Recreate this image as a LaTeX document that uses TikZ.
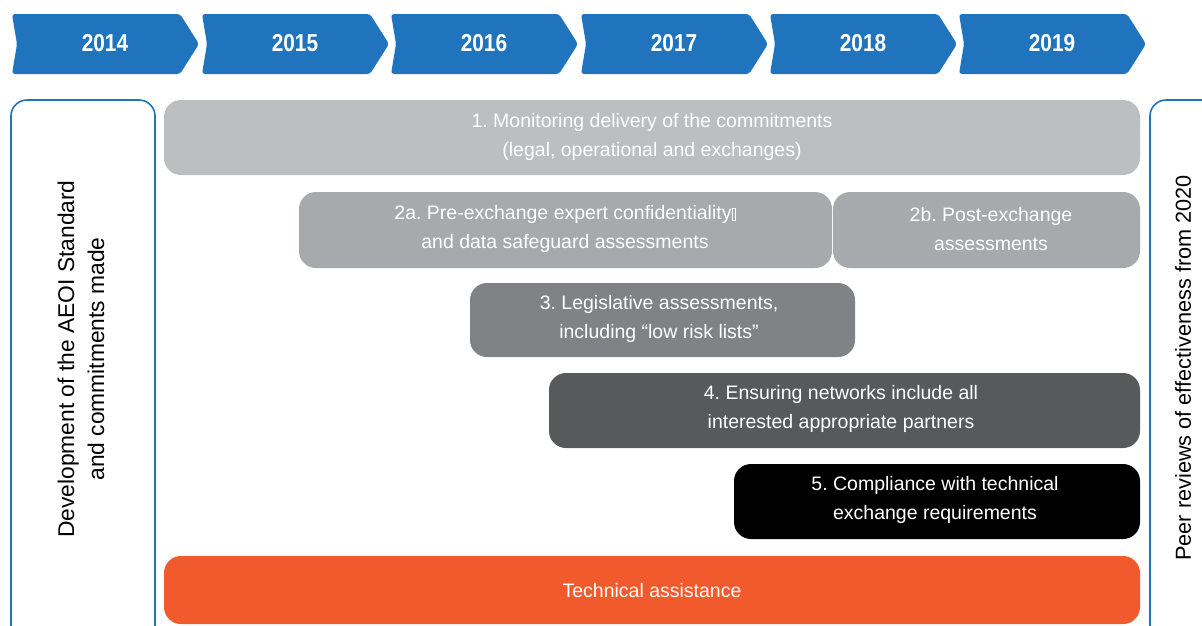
\documentclass[tikz,border=0pt]{standalone}
\usepackage{fontspec}
\usepackage{graphicx}
\setmainfont{Liberation Sans}
\frenchspacing
\definecolor{cblue}{HTML}{1F74BD}
\definecolor{g1}{HTML}{BCBEC0}
\definecolor{g2}{HTML}{A7A9AC}
\definecolor{g3}{HTML}{808285}
\definecolor{g4}{HTML}{58595B}
\definecolor{orng}{HTML}{F15A2C}
\tikzset{
  chev/.style={fill=cblue, rounded corners=3pt},
  yearlbl/.style={text=white, font=\fontsize{24.5}{28}\selectfont\bfseries},
  bar/.style={rounded corners=17pt, text=white, align=center, inner sep=0pt,
    font=\fontsize{19.5}{29}\selectfont},
  sidebox/.style={draw=cblue, line width=1.6pt, rounded corners=16pt},
  sidelbl/.style={rotate=90, align=center, text=black}
}
\newcommand{\mychev}[2]{%
  \fill[chev] (#1,14) -- (#1+168,14) -- (#1+187,44) -- (#1+168,74) -- (#1,74) -- (#1+5,44) -- cycle;
  \node[yearlbl] (y#2) at (#1+93,43) {\scalebox{0.85}[1]{#2}};
}
\begin{document}
\begin{tikzpicture}[x=1pt,y=-1pt]
\useasboundingbox (0,0) rectangle (1202,625);
\fill[white] (0,0) rectangle (1202,625);
% chevrons
\mychev{12}{2014}
\mychev{202}{2015}
\mychev{391}{2016}
\mychev{581}{2017}
\mychev{770}{2018}
\mychev{959}{2019}
% side boxes
\draw[sidebox] (11,640) -- (11,100) -- (155,100) -- (155,640);
\draw[sidebox] (1150,640) -- (1150,100) -- (1230,100);
\node[sidelbl, font=\fontsize{22.8}{30}\selectfont] (dev) at (81,359) {Development of the AEOI Standard\\and commitments made};
\node[sidelbl, font=\fontsize{21.7}{30}\selectfont] (peer) at (1183,368) {Peer reviews of effectiveness from 2020};
% bars
\fill[g1, rounded corners=17pt] (164,100) rectangle (1140,175);
\node[bar] (b1) at (652,137) {1. Monitoring delivery of the commitments\\(legal, operational and exchanges)};
\fill[g2, rounded corners=17pt] (299,192) rectangle (832,268);
\node[bar] (b2a) at (565,229) {2a. Pre-exchange expert confidentiality{\setlength{\fboxsep}{0pt}\setlength{\fboxrule}{0.5pt}\fbox{\rule{0pt}{11pt}\hspace{3pt}}}\\and data safeguard assessments};
\fill[g2, rounded corners=17pt] (833,192) rectangle (1140,268);
\node[bar] (b2b) at (991,229) {2b. Post-exchange\\assessments};
\fill[g3, rounded corners=17pt] (470,283) rectangle (855,357);
\node[bar] (b3) at (659,319) {3. Legislative assessments,\\including “low risk lists”};
\fill[g4, rounded corners=17pt] (549,373) rectangle (1140,448);
\node[bar] (b4) at (841,409) {4. Ensuring networks include all\\interested appropriate partners};
\fill[black, rounded corners=17pt] (734,464) rectangle (1140,539);
\node[bar] (b5) at (935,500) {5. Compliance with technical\\exchange requirements};
\fill[orng, rounded corners=17pt] (164,556) rectangle (1140,624);
\node[bar] (ta) at (652,591) {Technical assistance};
\end{tikzpicture}
\end{document}
